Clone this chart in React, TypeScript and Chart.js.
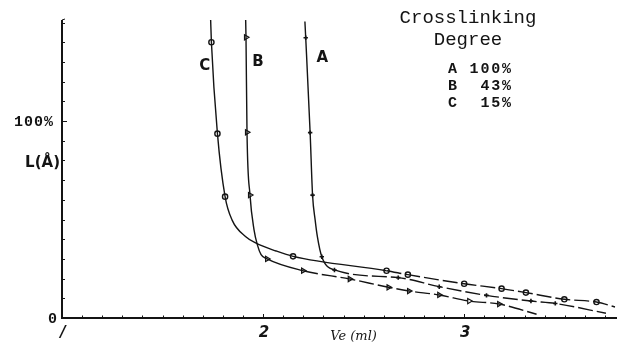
import React, { useEffect, useRef } from "react";
import { Chart, registerables } from "chart.js";

Chart.register(...registerables);

// Curve A (100% crosslinking) – measured points
const aMarkX = [2.212, 2.234, 2.246, 2.292, 2.355, 2.672, 2.876, 3.111, 3.332, 3.453];
const aMarkY = [142.3, 94.1, 62.4, 31.1, 24.4, 20.5, 15.9, 11.5, 8.6, 7.4];
// Curve A line trace (including unmarked ends and knee)
const aLineX = [2.208, 2.212, 2.234, 2.246, 2.259, 2.270, 2.292, 2.355, 2.672, 2.876, 3.111, 3.332, 3.453, 3.705];
const aLineY = [150.5, 142.3, 94.1, 62.4, 49.7, 41.3, 31.1, 24.4, 20.5, 15.9, 11.5, 8.6, 7.4, 2.4];

// Curve B (43%)
const bMarkX = [1.915, 1.92, 1.935, 2.02, 2.199, 2.431, 2.624, 2.726, 2.876, 3.025, 3.174];
const bMarkY = [142.5, 94.3, 62.4, 30.0, 24.0, 19.8, 15.6, 13.7, 11.7, 8.6, 7.1];
const bLineX = [1.913, 1.915, 1.92, 1.935, 1.955, 1.972, 1.99, 2.02, 2.199, 2.431, 2.624, 2.726, 2.876, 3.025, 3.174, 3.36];
const bLineY = [153.0, 142.5, 94.3, 62.4, 44.7, 37.0, 32.2, 30.0, 24.0, 19.8, 15.6, 13.7, 11.7, 8.6, 7.1, 1.9];

// Curve C (15%)
const cMarkX = [1.743, 1.773, 1.811, 2.149, 2.614, 2.72, 3.0, 3.186, 3.307, 3.498, 3.658];
const cMarkY = [140.0, 93.6, 61.6, 31.3, 24.0, 22.0, 17.4, 14.9, 12.9, 9.5, 8.1];
const cLineX = [1.739, 1.743, 1.773, 1.811, 1.846, 1.914, 1.965, 2.065, 2.149, 2.614, 2.72, 3.0, 3.186, 3.307, 3.498, 3.658, 3.75];
const cLineY = [152.0, 140.0, 93.6, 61.6, 49.7, 41.3, 38.0, 34.0, 31.3, 24.0, 22.0, 17.4, 14.9, 12.9, 9.5, 8.1, 5.6];

// x where the line tail becomes dashed
const dashFrom = { A: 2.3, B: 2.03, C: 2.16 };

const xTickLabels = ["/", "2", "3"];
const xTickValues = [1, 2, 3];
const yTickLabelValues = [0, 100];
const yTickLabels = ["0", "100%"];

const legendTitle = ["Crosslinking", "Degree"];
const legendRows = ["A 100%", "B  43%", "C  15%"];
const curveNames = ["A", "B", "C"];
const curveLabelPos = [
  { x: 2.295, y: 132 },
  { x: 1.975, y: 130 },
  { x: 1.71, y: 128 },
];

const INK = "#141414";

function pts(xs: number[], ys: number[]) {
  return xs.map((x, i) => ({ x, y: ys[i] }));
}

export default function App() {
  const ref = useRef<HTMLCanvasElement | null>(null);

  useEffect(() => {
    if (!ref.current) return;

    const lineDs = (label: string, xs: number[], ys: number[], from: number) => ({
      type: "line" as const,
      label,
      data: pts(xs, ys),
      borderColor: INK,
      borderWidth: 1.4,
      pointRadius: 0,
      tension: 0.35,
      cubicInterpolationMode: "monotone" as const,
      fill: false,
      segment: {
        borderDash: (ctx: any) => (ctx.p0.parsed.x >= from ? [15, 4] : undefined),
      },
    });

    const axesPlugin = {
      id: "paperAxes",
      afterDraw(chart: any) {
        const { ctx, chartArea, scales } = chart;
        const xs = scales.x;
        const ys = scales.y;
        ctx.save();
        ctx.strokeStyle = INK;
        ctx.fillStyle = INK;
        // axes
        ctx.lineWidth = 2;
        ctx.beginPath();
        ctx.moveTo(chartArea.left, chartArea.top);
        ctx.lineTo(chartArea.left, chartArea.bottom);
        ctx.lineTo(chart.width, chartArea.bottom);
        ctx.stroke();
        ctx.lineWidth = 1;
        ctx.beginPath();
        ctx.moveTo(chartArea.left, chartArea.top);
        ctx.lineTo(chartArea.left + 3, chartArea.top - 1);
        ctx.stroke();
        // y minor ticks inside
        ctx.lineWidth = 1;
        for (let v = 10; v <= 150; v += 10) {
          const py = Math.round(ys.getPixelForValue(v)) + 0.5;
          ctx.beginPath();
          ctx.moveTo(chartArea.left, py);
          ctx.lineTo(chartArea.left + (v === 100 ? 5 : 3), py);
          ctx.stroke();
        }
        // x minor ticks inside
        for (let k = 11; k <= 37; k++) {
          const v = k / 10;
          const px = Math.round(xs.getPixelForValue(v)) + 0.5;
          ctx.beginPath();
          ctx.moveTo(px, chartArea.bottom);
          ctx.lineTo(px, chartArea.bottom - (k % 10 === 0 ? 4 : 2.5));
          ctx.stroke();
        }
        // y tick labels
        ctx.font = "bold 15px 'Liberation Mono', monospace";
        ctx.textAlign = "right";
        ctx.textBaseline = "middle";
        (ctx as any).letterSpacing = "1px";
        yTickLabelValues.forEach((v, i) => {
          ctx.fillText(yTickLabels[i], chartArea.left - (v === 0 ? 4 : 8), ys.getPixelForValue(v) + 1);
        });
        (ctx as any).letterSpacing = "0px";
        // x tick labels
        ctx.font = "italic bold 15px 'DejaVu Sans', sans-serif";
        ctx.textAlign = "center";
        ctx.textBaseline = "middle";
        xTickValues.forEach((v, i) => {
          ctx.fillText(xTickLabels[i], xs.getPixelForValue(v) + 1, chartArea.bottom + 15);
        });
        // axis titles
        ctx.font = "italic 13px 'DejaVu Serif', serif";
        ctx.fillText("Ve (ml)", xs.getPixelForValue(2.45), chartArea.bottom + 19);
        ctx.font = "bold 15px 'DejaVu Sans', sans-serif";
        ctx.textAlign = "right";
        ctx.fillText("L(Å)", chartArea.left - 2, ys.getPixelForValue(78.5));
        // curve labels
        ctx.font = "bold 15px 'DejaVu Sans', sans-serif";
        ctx.textAlign = "center";
        curveNames.forEach((n, i) => {
          ctx.fillText(n, xs.getPixelForValue(curveLabelPos[i].x), ys.getPixelForValue(curveLabelPos[i].y));
        });
        // legend
        ctx.font = "19px 'Liberation Mono', monospace";
        ctx.textAlign = "center";
        ctx.fillText(legendTitle[0], 468, 18);
        ctx.fillText(legendTitle[1], 468, 40);
        ctx.font = "bold 15px 'Liberation Mono', monospace";
        ctx.textAlign = "left";
        (ctx as any).letterSpacing = "1.8px";
        legendRows.forEach((r, i) => {
          ctx.fillText(r, 448, 69 + i * 17);
        });
        ctx.restore();
      },
    };

    const chart = new Chart(ref.current, {
      type: "line",
      data: {
        datasets: [
          lineDs("A line", aLineX, aLineY, dashFrom.A),
          lineDs("B line", bLineX, bLineY, dashFrom.B),
          lineDs("C line", cLineX, cLineY, dashFrom.C),
          {
            type: "scatter",
            label: "A",
            data: pts(aMarkX, aMarkY),
            pointStyle: "cross",
            pointRadius: 2.2,
            borderWidth: 1.6,
            borderColor: INK,
            backgroundColor: INK,
            showLine: false,
          },
          {
            type: "scatter",
            label: "B",
            data: pts(bMarkX, bMarkY),
            pointStyle: "triangle",
            rotation: 90,
            pointRadius: 3,
            borderWidth: 1.2,
            borderColor: INK,
            backgroundColor: "#ffffff",
            showLine: false,
          },
          {
            type: "scatter",
            label: "C",
            data: pts(cMarkX, cMarkY),
            pointStyle: "circle",
            pointRadius: 2.6,
            borderWidth: 1.4,
            borderColor: INK,
            backgroundColor: "#ffffff",
            showLine: false,
          },
        ] as any,
      },
      options: {
        animation: false,
        responsive: false,
        maintainAspectRatio: false,
        layout: { autoPadding: false, padding: { left: 62, right: 0, top: 20, bottom: 24 } },
        plugins: { legend: { display: false }, tooltip: { enabled: false } },
        scales: {
          x: { type: "linear", min: 1, max: 3.76, display: false },
          y: { type: "linear", min: 0, max: 151.3, display: false },
        },
      },
      plugins: [axesPlugin],
    });
    return () => chart.destroy();
  }, []);

  return (
    <div style={{ position: "fixed", left: 0, top: 0, width: 617, height: 342, background: "#fff" }}>
      <canvas ref={ref} width={617} height={342} style={{ display: "block", width: 617, height: 342 }} />
    </div>
  );
}
